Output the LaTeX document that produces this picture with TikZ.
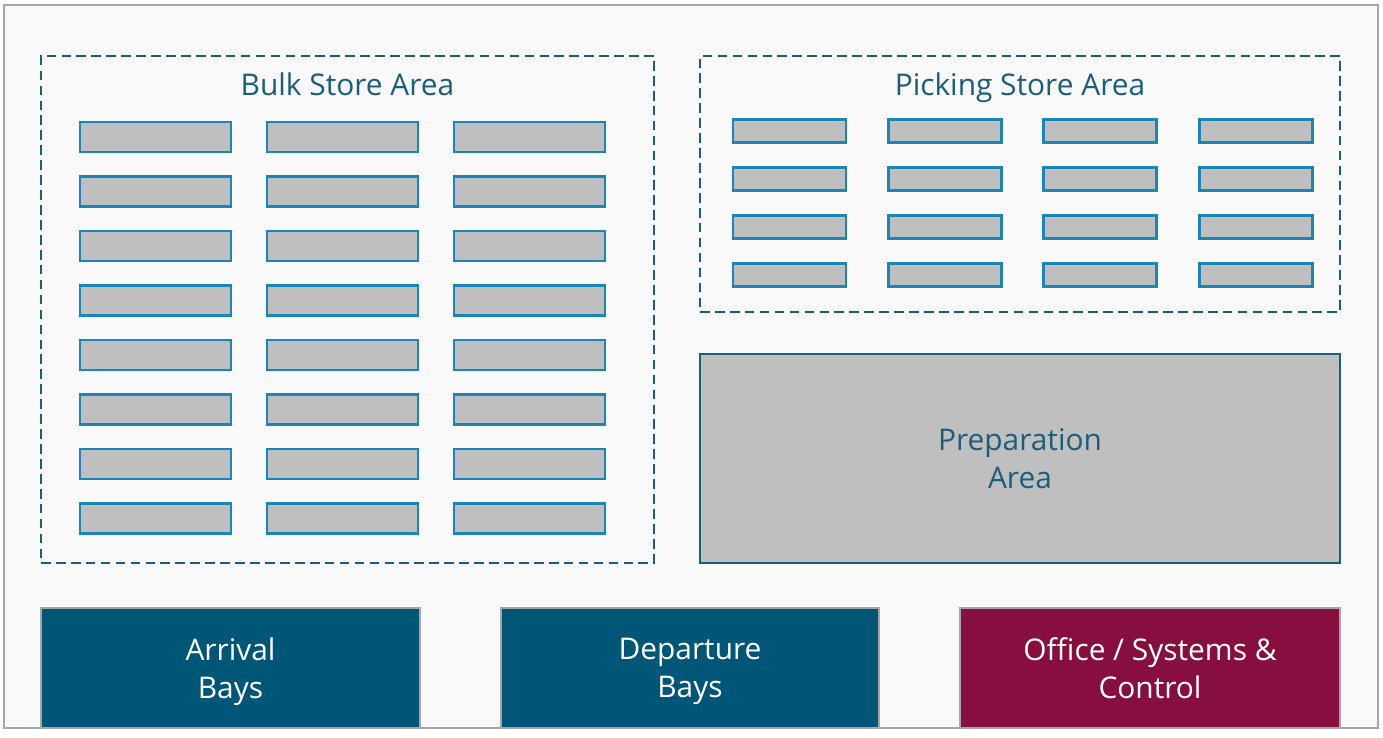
\documentclass[tikz,border=0pt]{standalone}
\usepackage{fontspec}
\setmainfont{Open Sans}
\usepackage{tikz}
\usetikzlibrary{positioning, calc}
\definecolor{primaryColor}{RGB}{27,94,123}
\definecolor{rackColor}{RGB}{26,134,184}
\definecolor{rackFill}{RGB}{191,191,191}
\definecolor{frameColor}{RGB}{166,166,166}
\definecolor{floorColor}{RGB}{249,249,249}
\definecolor{bayColor}{RGB}{0,86,119}
\definecolor{officeColor}{RGB}{135,15,64}
\tikzstyle{zone} = [rectangle, draw=primaryColor, line width=1.5pt, dash pattern=on 5.5pt off 3pt, inner sep=0pt]
\tikzstyle{title} = [text=primaryColor, font=\fontsize{17}{21.5}\selectfont]
\tikzstyle{bulkrack} = [rectangle, minimum width=3.02cm, minimum height=0.6cm, inner sep=0pt, fill=rackFill, draw=rackColor, line width=1.3pt]
\tikzstyle{pickrack} = [rectangle, minimum width=2.26cm, minimum height=0.46cm, inner sep=0pt, fill=rackFill, draw=rackColor, line width=1.3pt]
\tikzstyle{bay} = [rectangle, minimum height=2.4cm, inner sep=0pt, align=center, text depth=0pt, draw=frameColor, line width=1.1pt, text=white, font=\fontsize{17}{21.5}\selectfont]

\begin{document}
\begin{tikzpicture}
            \useasboundingbox (0,0) rectangle (27.66,-14.74);
            \draw [frameColor, fill=floorColor, line width=1.1pt] (0.08,-0.1) rectangle (27.56,-14.56);

            % storage zones
            \node (bulk) [zone, minimum width=12.26cm, minimum height=10.14cm] at (6.95,-6.19) {};
            \node (picking) [zone, minimum width=12.8cm, minimum height=5.12cm] at (20.4,-3.68) {};
            \node (bulktitle) [title, anchor=base] at (6.95,-1.9) {Bulk Store Area};
            \node (pickingtitle) [title, anchor=base] at (20.4,-1.9) {Picking Store Area};

            % racks
            \foreach \c/\x in {1/3.11, 2/6.85, 3/10.59}
              \foreach \r in {0,...,7}
                \node (bulk-\c-\r) [bulkrack] at (\x,{-2.74-1.09*\r}) {};
            \foreach \c/\x in {1/15.79, 2/18.9, 3/22.0, 4/25.12}
              \foreach \r in {0,...,3}
                \node (pick-\c-\r) [pickrack] at (\x,{-2.62-0.96*\r}) {};

            \node (prep) [rectangle, minimum width=12.8cm, minimum height=4.18cm, inner sep=0pt, align=center, text depth=0pt, fill=rackFill, draw=primaryColor, line width=1.1pt, title] at (20.4,-9.17) {Preparation \\ Area};

            % bays and office
            \node (arrival) [bay, fill=bayColor, minimum width=7.58cm] at (4.61,-13.36) {Arrival \\ Bays};
            \node (departure) [bay, fill=bayColor, minimum width=7.56cm] at (13.8,-13.36) {Departure \\ Bays};
            \node (office) [bay, fill=officeColor, minimum width=7.6cm] at (23.0,-13.36) {Office / Systems \& \\ Control};
        \end{tikzpicture}
\end{document}
